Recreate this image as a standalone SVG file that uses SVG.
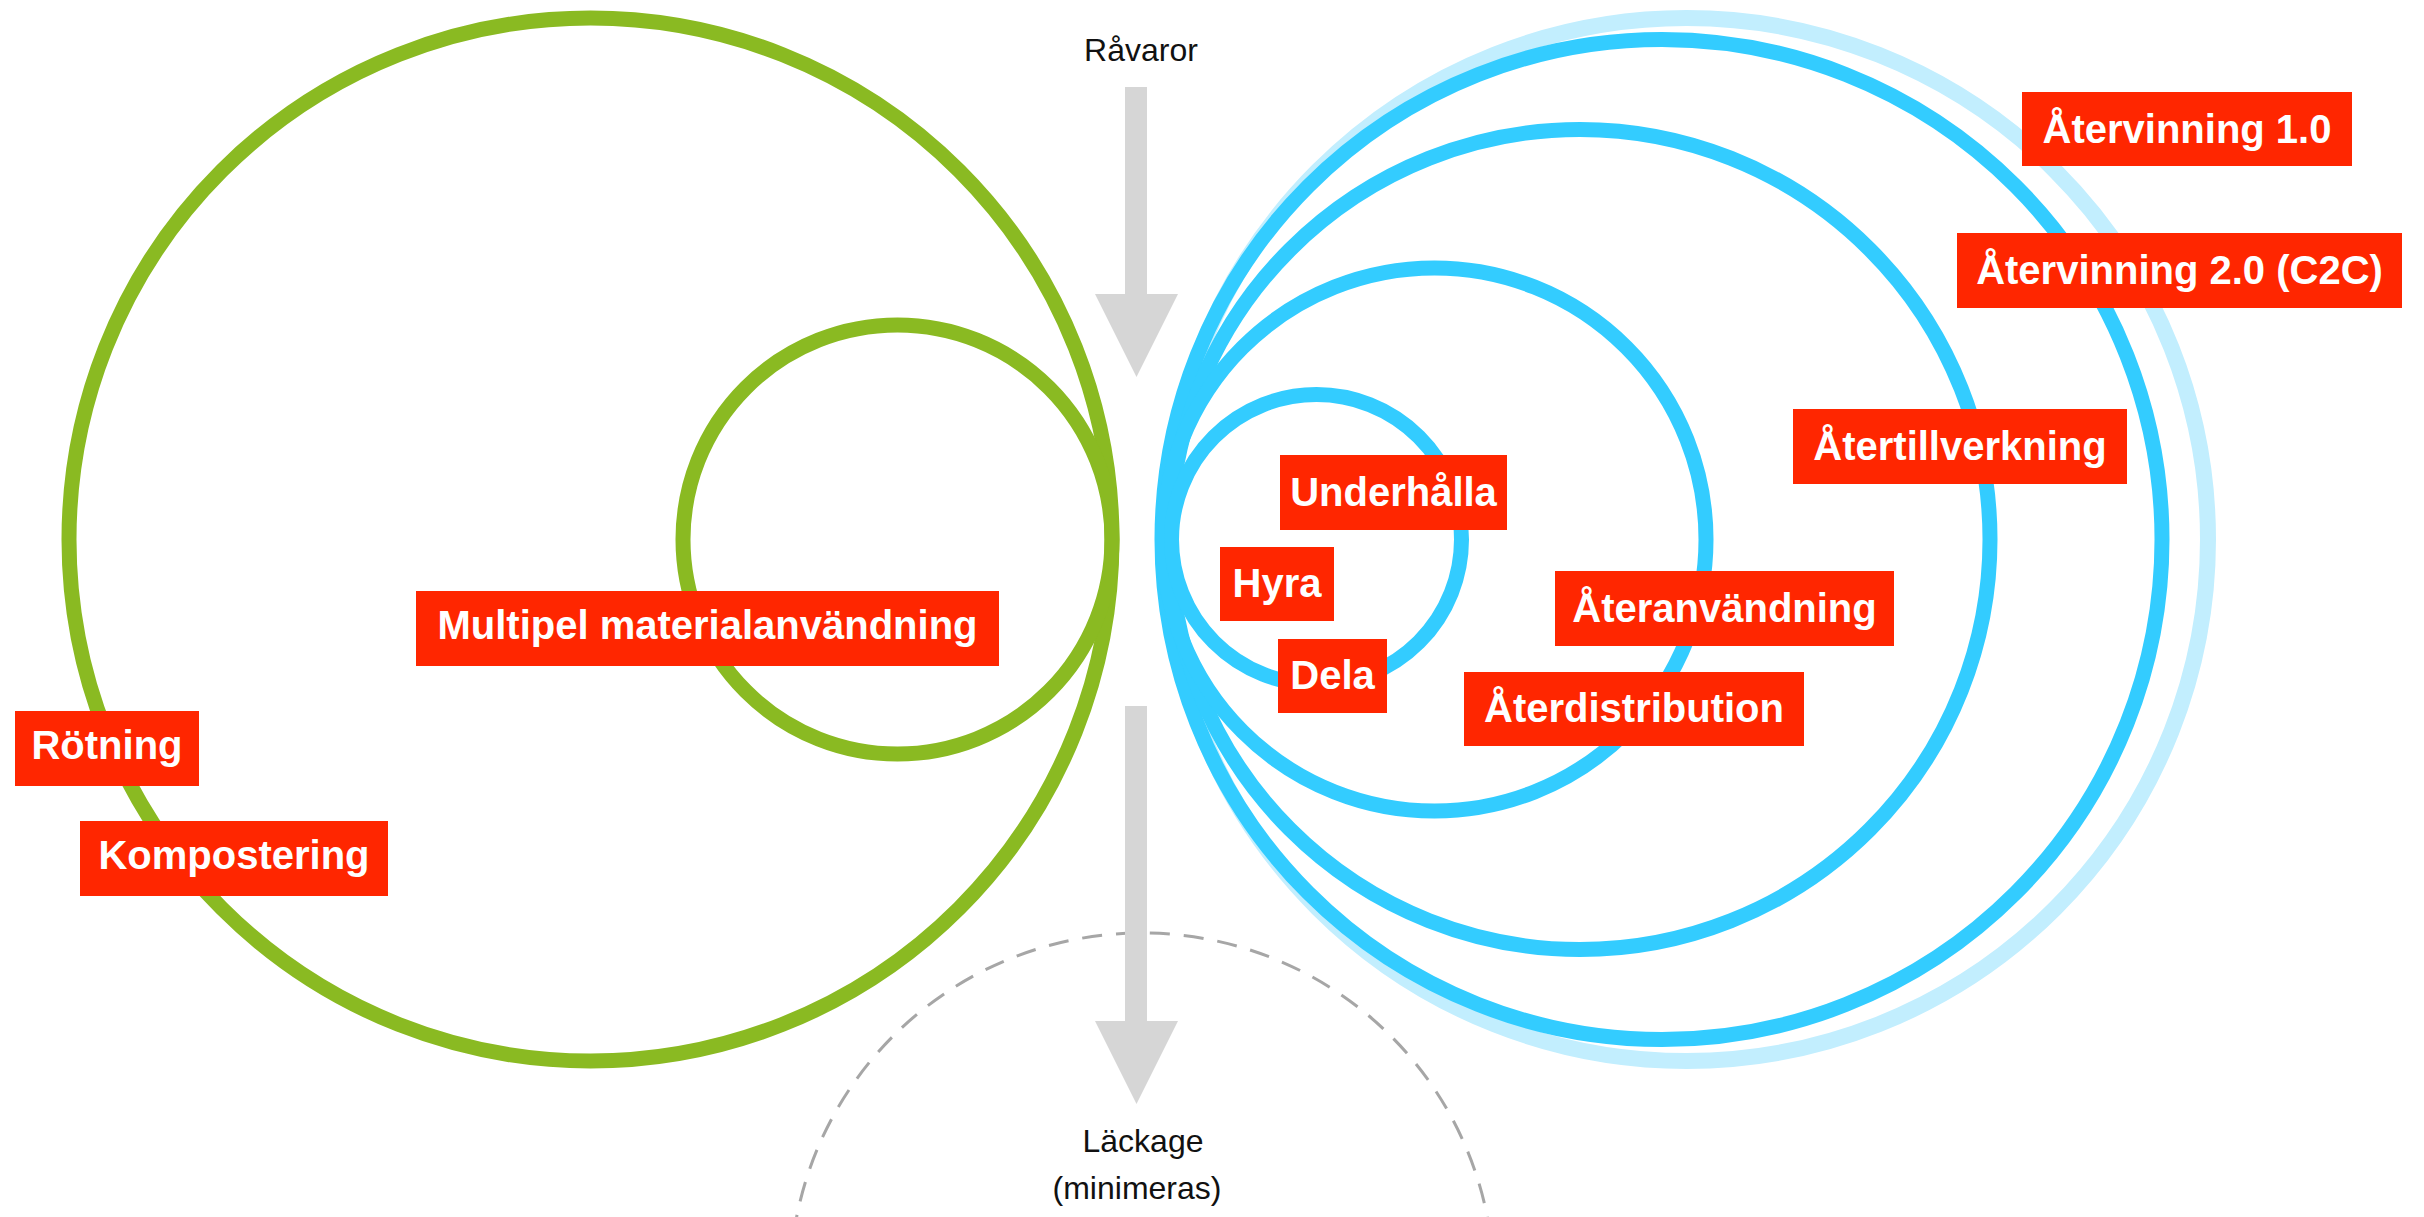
<svg xmlns="http://www.w3.org/2000/svg" width="2424" height="1217" viewBox="0 0 2424 1217">
  <style>
    .ring { fill: none; stroke-width: 15; }
    .green { stroke: #8aba22; }
    .blue { stroke: #33ccff; }
    .lightblue { stroke: #c2eefe; stroke-width: 16; }
    .box { fill: #ff2600; }
    .lbl { font-family: "Liberation Sans", Arial, sans-serif; font-weight: bold; font-size: 40px; fill: #ffffff; text-anchor: middle; }
    .plain { font-family: "Liberation Sans", Arial, sans-serif; font-size: 32px; fill: #111111; text-anchor: middle; }
    .flow { fill: #d6d6d6; }
    .leak { fill: none; stroke: #a6a6a6; stroke-width: 3; stroke-dasharray: 20 14; }
  </style>
  <rect width="2424" height="1217" fill="#ffffff"/>

  <g id="leak-zone">
    <circle class="leak" cx="1142" cy="1285" r="352"/>
  </g>

  <g id="biological-cycles">
    <circle id="ring-rotning" class="ring green" cx="590.5" cy="539.5" r="521.5"/>
    <circle id="ring-multipel" class="ring green" cx="897.5" cy="539.5" r="214.5"/>
  </g>

  <g id="technical-cycles">
    <circle id="ring-atervinning1" class="ring lightblue" cx="1686.5" cy="539.5" r="521.5"/>
    <circle id="ring-atervinning2" class="ring blue" cx="1662" cy="539.5" r="500"/>
    <circle id="ring-atertillverkning" class="ring blue" cx="1580" cy="539.5" r="410"/>
    <circle id="ring-ateranvandning" class="ring blue" cx="1434.5" cy="539.5" r="271.5"/>
    <circle id="ring-underhalla" class="ring blue" cx="1316.5" cy="539.5" r="145"/>
  </g>

  <g id="connectors">
    <g id="arrow-ravaror">
      <rect class="flow" x="1125" y="87" width="22" height="208"/>
      <polygon class="flow" points="1095,294 1178,294 1136.5,377"/>
    </g>
    <g id="arrow-lackage">
      <rect class="flow" x="1125" y="706" width="22" height="316"/>
      <polygon class="flow" points="1095,1021 1178,1021 1136.5,1104"/>
    </g>
  </g>

  <g id="node-ravaror">
    <text class="plain" x="1141" y="61">Råvaror</text>
  </g>
  <g id="node-lackage">
    <text class="plain" x="1143" y="1152">Läckage</text>
    <text class="plain" x="1137" y="1199">(minimeras)</text>
  </g>

  <g id="node-atervinning1">
    <rect class="box" x="2022" y="92" width="330" height="74"/>
    <text class="lbl" x="2187" y="143">Återvinning 1.0</text>
  </g>
  <g id="node-atervinning2">
    <rect class="box" x="1957" y="233" width="445" height="75"/>
    <text class="lbl" x="2179.5" y="284">Återvinning 2.0 (C2C)</text>
  </g>
  <g id="node-atertillverkning">
    <rect class="box" x="1793" y="409" width="334" height="75"/>
    <text class="lbl" x="1960" y="460">Återtillverkning</text>
  </g>
  <g id="node-underhalla">
    <rect class="box" x="1280" y="455" width="227" height="75"/>
    <text class="lbl" x="1393.5" y="506">Underhålla</text>
  </g>
  <g id="node-hyra">
    <rect class="box" x="1220" y="547" width="114" height="74"/>
    <text class="lbl" x="1277" y="597">Hyra</text>
  </g>
  <g id="node-ateranvandning">
    <rect class="box" x="1555" y="571" width="339" height="75"/>
    <text class="lbl" x="1724.5" y="622">Återanvändning</text>
  </g>
  <g id="node-dela">
    <rect class="box" x="1278" y="639" width="109" height="74"/>
    <text class="lbl" x="1332.5" y="689">Dela</text>
  </g>
  <g id="node-aterdistribution">
    <rect class="box" x="1464" y="672" width="340" height="74"/>
    <text class="lbl" x="1634" y="722">Återdistribution</text>
  </g>
  <g id="node-multipel">
    <rect class="box" x="416" y="591" width="583" height="75"/>
    <text class="lbl" x="707.5" y="639">Multipel materialanvändning</text>
  </g>
  <g id="node-rotning">
    <rect class="box" x="15" y="711" width="184" height="75"/>
    <text class="lbl" x="107" y="759">Rötning</text>
  </g>
  <g id="node-kompostering">
    <rect class="box" x="80" y="821" width="308" height="75"/>
    <text class="lbl" x="234" y="869">Kompostering</text>
  </g>
</svg>
